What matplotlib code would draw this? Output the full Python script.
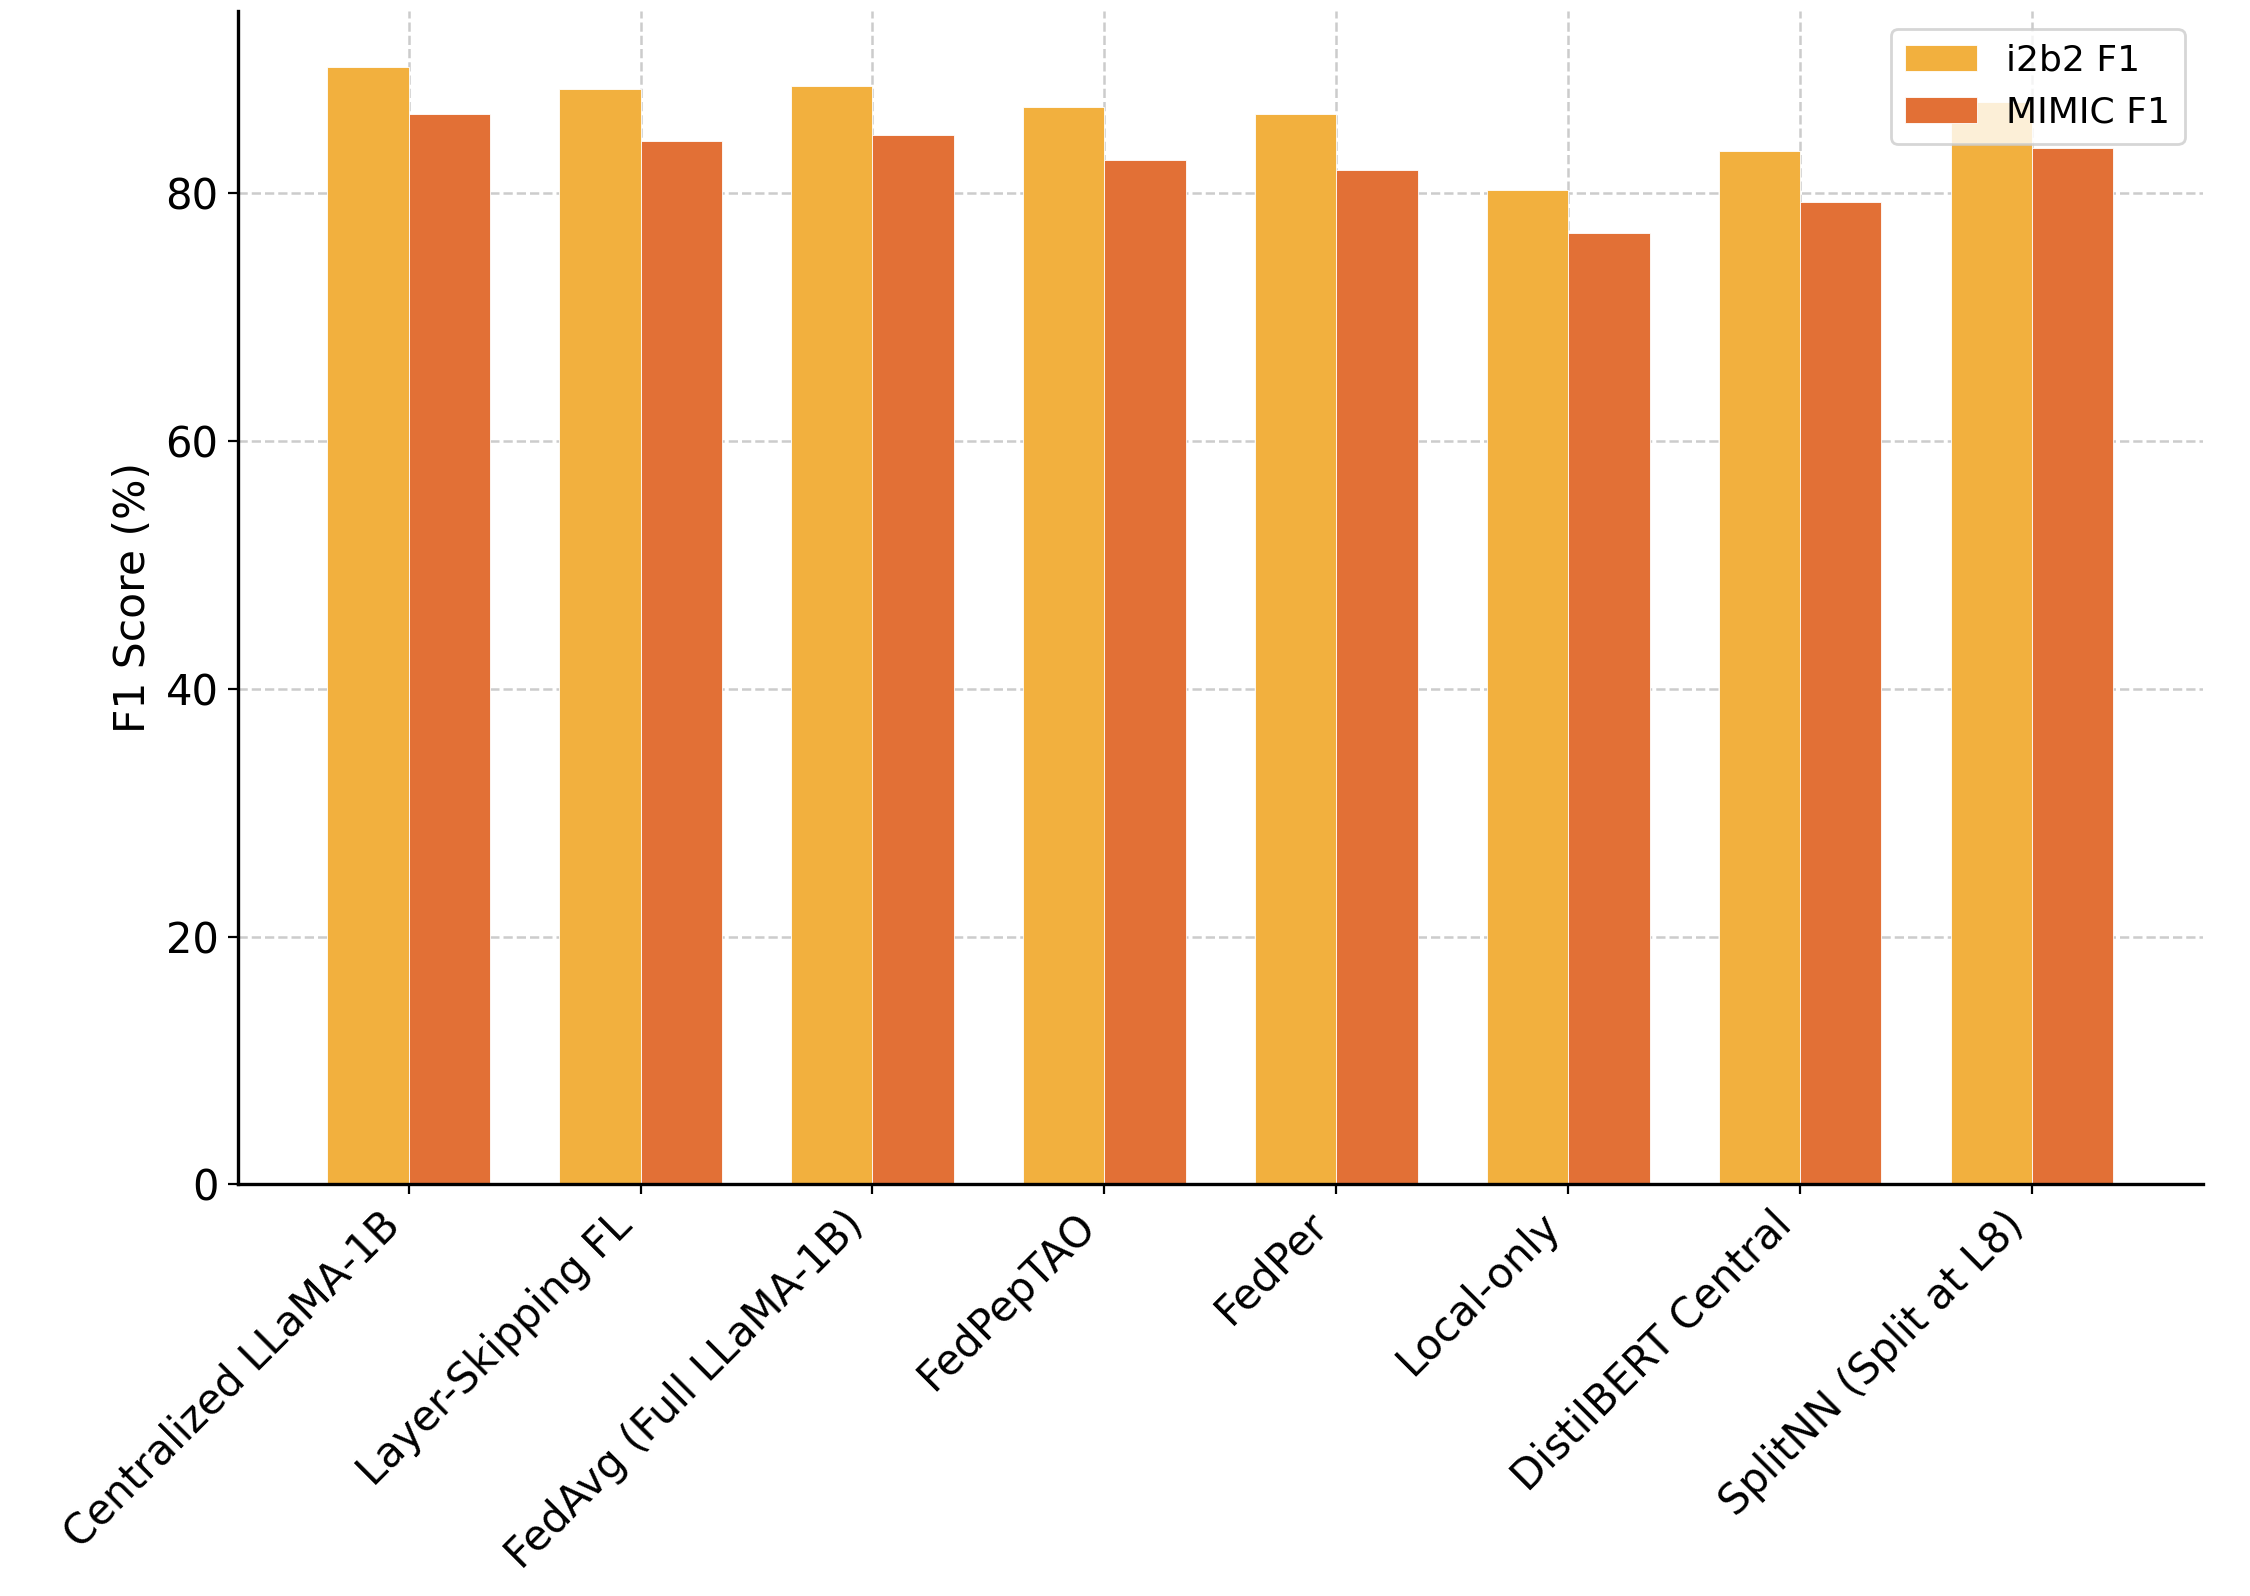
import numpy as np
import matplotlib
matplotlib.use("Agg")
import matplotlib.pyplot as plt

methods = [
    "Centralized LLaMA-1B",
    "Layer-Skipping FL",
    "FedAvg (Full LLaMA-1B)",
    "FedPepTAO",
    "FedPer",
    "Local-only",
    "DistilBERT Central",
    "SplitNN (Split at L8)",
]
i2b2_f1 = [90.2, 88.4, 88.7, 87.0, 86.4, 80.3, 83.4, 87.4]
mimic_f1 = [86.4, 84.2, 84.7, 82.7, 81.9, 76.8, 79.3, 83.7]

fig = plt.figure(figsize=(11.25, 7.98), dpi=200)
ax = fig.add_axes([0.1058, 0.258, 0.8732, 0.735])

x = np.arange(len(methods))
w = 0.35
ax.bar(x - w / 2, i2b2_f1, w, color="#F2B03E", edgecolor="white", lw=0.3, label="i2b2 F1")
ax.bar(x + w / 2, mimic_f1, w, color="#E27036", edgecolor="white", lw=0.3, label="MIMIC F1")

ax.set_ylabel("F1 Score (%)", fontsize=15.3)
ax.set_xticks(x)
ax.set_xticklabels(methods, rotation=45, ha="right", fontsize=15)
ax.tick_params(axis="y", labelsize=15)
ax.set_axisbelow(True)
ax.grid(True, ls="--", color="#cccccc", lw=0.9)
ax.spines["top"].set_visible(False)
ax.spines["right"].set_visible(False)
ax.spines["left"].set_linewidth(1.2)
ax.spines["bottom"].set_linewidth(1.2)
ax.legend(fontsize=13, loc="upper right")

fig.savefig("out.png", dpi=200)
